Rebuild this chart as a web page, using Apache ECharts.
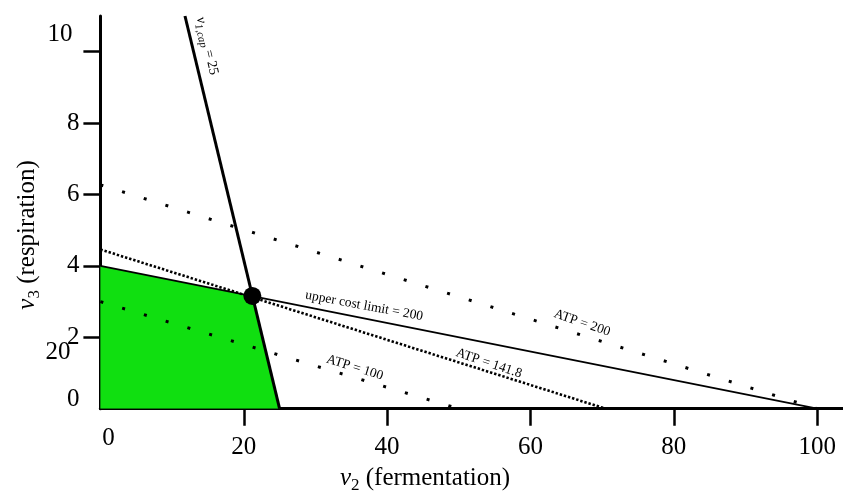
<!DOCTYPE html>
<html>
<head>
<meta charset="utf-8">
<script src="https://cdn.jsdelivr.net/npm/echarts@6/dist/echarts.min.js"></script>
<style>
  html, body { margin: 0; padding: 0; background: #fff; }
  #chart { width: 843px; height: 492px; }
</style>
</head>
<body>
<div id="chart"></div>
<script>
// axis ticks
var xLabels = [0, 20, 40, 60, 80, 100]
var xTickMarks = [20, 40, 60, 80, 100]
var yLabels = [0, 2, 4, 6, 8, 10]
var yTickMarks = [2, 4, 6, 8, 10]

// constraint / iso-ATP lines, end points as [v2, v3]
var capLine = [[25, 0], [11.8, 11]]
var costLine = [[0, 4], [100, 0]]
var atp100 = [[0, 3.0], [50, 0]]
var atp141 = [[0, 4.46], [70.5, 0]]
var atp200 = [[0, 6.27], [100, 0]]

// feasible region (upper edge) and optimum
var feasible = [[0, 4], [21.2, 3.16], [25, 0]]
var optimum = [[21.2, 3.16]]

var serif = "'Liberation Serif', 'DejaVu Serif', serif"
var big = 25

// labels along the lines: anchor in data coords, angle in degrees (clockwise)
var lineLabels = [
  { text: 'upper cost limit = 200', at: [36.8, 2.88], angle: 10.5 },
  { text: 'ATP = 200', at: [67.2, 2.40], angle: 19 },
  { text: 'ATP = 141.8', at: [54.2, 1.27], angle: 18.5 },
  { text: 'ATP = 100', at: [35.5, 1.15], angle: 17.5 },
  { text: '{i|v}{s|1,cap}{n| = 25}', at: [14.9, 10.16], angle: 76.6 }
]

var chart = echarts.init(document.getElementById('chart'))

function dotted(data, width, dash) {
  return {
    type: 'line',
    data: data,
    symbol: 'none',
    silent: true,
    z: 3,
    lineStyle: { color: '#000', width: width, type: dash, cap: 'butt', opacity: 1 }
  }
}

chart.setOption({
  animation: false,
  backgroundColor: '#fff',
  grid: { left: 100.4, right: 0, top: 16, bottom: 83.3, outerBoundsMode: 'none' },
  xAxis: {
    type: 'value',
    min: 0,
    max: 103.6,
    interval: 20,
    splitLine: { show: false },
    axisLine: { show: true, onZero: false, lineStyle: { color: '#000', width: 3 } },
    axisTick: { show: true, customValues: xTickMarks, length: 17, lineStyle: { color: '#000', width: 2.5 } },
    axisLabel: {
      customValues: xLabels,
      margin: 17,
      color: '#000',
      fontFamily: serif,
      fontSize: big,
      formatter: function (v) {
        return v === 0 ? '{z|0}' : '{n|' + v + '}'
      },
      rich: {
        n: { fontFamily: serif, fontSize: big, color: '#000', padding: [9, 0, 0, 0] },
        z: { fontFamily: serif, fontSize: big, color: '#000', padding: [0, 0, 0, 16] }
      }
    }
  },
  yAxis: {
    type: 'value',
    min: 0,
    max: 11,
    interval: 2,
    splitLine: { show: false },
    axisLine: { show: true, onZero: false, lineStyle: { color: '#000', width: 3 } },
    axisTick: { show: true, customValues: yTickMarks, length: 17, lineStyle: { color: '#000', width: 2.5 } },
    axisLabel: {
      customValues: yLabels,
      margin: 21,
      color: '#000',
      fontFamily: serif,
      fontSize: big,
      formatter: function (v) {
        if (v === 10) return '{t|10}'
        if (v === 0) return '{z|0}'
        return '{n|' + v + '}'
      },
      rich: {
        n: { fontFamily: serif, fontSize: big, color: '#000' },
        t: { fontFamily: serif, fontSize: big, color: '#000', padding: [0, 7, 34, 0] },
        z: { fontFamily: serif, fontSize: big, color: '#000', padding: [0, 0, 18, 0] }
      }
    }
  },
  series: [
    {
      type: 'line',
      data: feasible,
      symbol: 'none',
      silent: true,
      z: 1,
      lineStyle: { width: 0 },
      areaStyle: { color: '#10df10', opacity: 1 }
    },
    dotted(atp100, 3, [3, 19.7]),
    dotted(atp200, 3, [3, 19.7]),
    dotted(atp141, 2.6, [2.4, 1.9]),
    {
      type: 'line',
      data: costLine,
      symbol: 'none',
      silent: true,
      z: 4,
      lineStyle: { color: '#000', width: 1.7, opacity: 1 }
    },
    {
      type: 'line',
      data: capLine,
      symbol: 'none',
      silent: true,
      z: 4,
      lineStyle: { color: '#000', width: 3, opacity: 1 }
    },
    {
      type: 'scatter',
      data: optimum,
      symbolSize: 18,
      silent: true,
      z: 6,
      itemStyle: { color: '#000', opacity: 1 }
    }
  ]
})

var small = 13.5
var richSmall = {
  i: { fontFamily: serif, fontSize: 14, fontStyle: 'italic', color: '#000', lineHeight: 19 },
  s: { fontFamily: serif, fontSize: 11, fontStyle: 'italic', color: '#000', lineHeight: 11, verticalAlign: 'bottom' },
  n: { fontFamily: serif, fontSize: 14, color: '#000', lineHeight: 19 }
}
var richBig = {
  i: { fontFamily: serif, fontSize: big, fontStyle: 'italic', color: '#000', lineHeight: 32 },
  s: { fontFamily: serif, fontSize: 17, color: '#000', lineHeight: 17, verticalAlign: 'bottom' },
  t: { fontFamily: serif, fontSize: big, color: '#000', lineHeight: 32 }
}

var graphics = lineLabels.map(function (l) {
  var p = chart.convertToPixel({ gridIndex: 0 }, l.at)
  return {
    type: 'text',
    x: p[0],
    y: p[1],
    rotation: -l.angle * Math.PI / 180,
    silent: true,
    z: 10,
    style: {
      text: l.text,
      fontFamily: serif,
      fontSize: small,
      fill: '#000',
      align: 'center',
      verticalAlign: 'middle',
      rich: richSmall
    }
  }
})

// axis titles and the stray "20" next to the y axis
graphics.push({
  type: 'text', x: 425, y: 478, silent: true,
  style: { text: '{i|v}{s|2}{t| (fermentation)}', align: 'center', verticalAlign: 'middle', rich: richBig }
})
graphics.push({
  type: 'text', x: 27, y: 235, rotation: Math.PI / 2, silent: true,
  style: { text: '{i|v}{s|3}{t| (respiration)}', align: 'center', verticalAlign: 'middle', rich: richBig }
})
graphics.push({
  type: 'text', x: 58, y: 352, silent: true,
  style: { text: '20', fontFamily: serif, fontSize: big, fill: '#000', align: 'center', verticalAlign: 'middle' }
})

chart.setOption({ graphic: graphics })
</script>
</body>
</html>
